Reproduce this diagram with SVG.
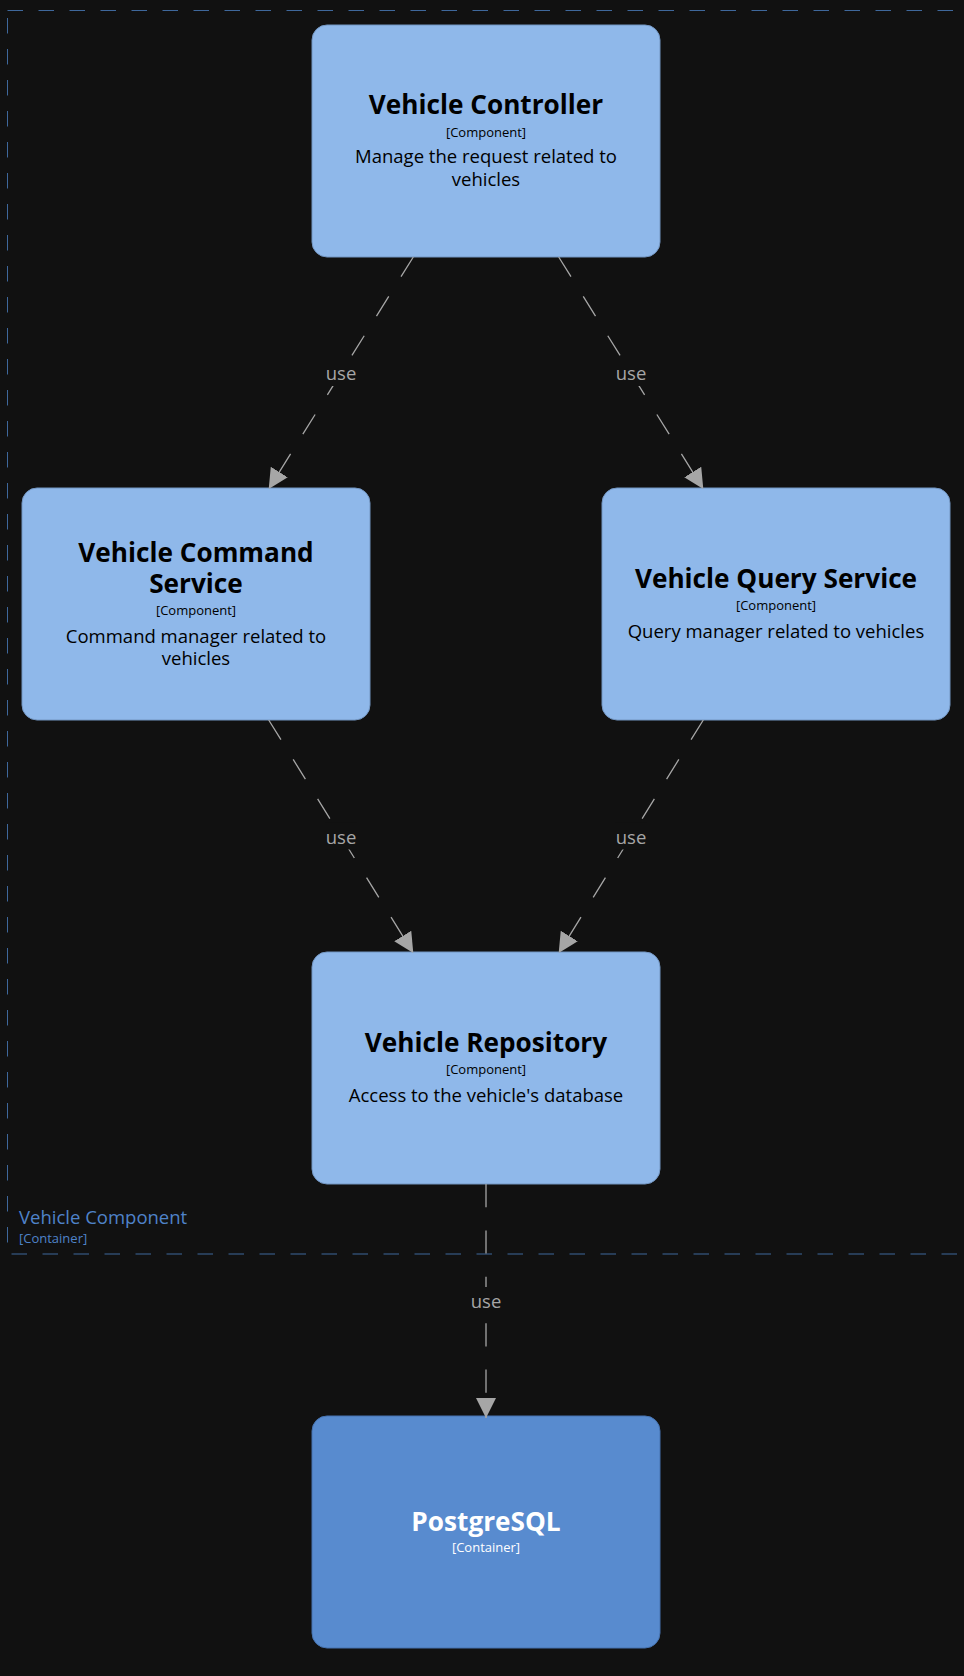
<svg xmlns="http://www.w3.org/2000/svg" width="964" height="1676" viewBox="0 0 964 1676">
<defs>
<style>
.bg{fill:#111111}
.boundary{fill:none;stroke:#3f689c;stroke-width:1;stroke-dasharray:15.5 15.5}
.blabel{font-family:"Open Sans","Noto Sans",sans-serif;fill:#4f83c9}
.box{fill:#8fb8ea;stroke:#7396c2;stroke-width:1}
.db{fill:#588bcf;stroke:#4673b0;stroke-width:1}
.t{font-family:"Open Sans","Noto Sans",sans-serif;text-anchor:middle;fill:#000}
.w{fill:#fff}
.name{font-size:26.2px;font-weight:bold}
.meta{font-size:13px}
.desc{font-size:18.5px}
.edge{fill:none;stroke:#a6a6a6;stroke-width:1.3;stroke-dasharray:23.2 23.2}
.lbg{fill:#111111}
.lbl{font-family:"Open Sans","Noto Sans",sans-serif;font-size:18.5px;fill:#a6a6a6;text-anchor:middle}
</style>
<marker id="arr" viewBox="0 0 20 20" refX="20" refY="10" markerWidth="20" markerHeight="20" markerUnits="userSpaceOnUse" orient="auto">
<path d="M0,0 L20,10 L0,20 z" fill="#a6a6a6"/>
</marker>
</defs>
<rect class="bg" x="0" y="0" width="964" height="1676"/>
<g id="boundary">
<rect class="boundary" x="7.5" y="10.5" width="1000" height="1243.5"/>
<text class="blabel" x="19" y="1224" font-size="18.5">Vehicle Component</text>
<text class="blabel" x="19" y="1243" font-size="13">[Container]</text>
</g>
<g id="vehicle-controller">
<rect class="box" x="312" y="25" width="348" height="232" rx="15"/>
<text class="t name" x="486" y="114">Vehicle Controller</text>
<text class="t meta" x="486" y="136.5">[Component]</text>
<text class="t desc" x="486" y="162.5">Manage the request related to</text>
<text class="t desc" x="486" y="185.5">vehicles</text>
</g>
<g id="vehicle-command-service">
<rect class="box" x="22" y="488" width="348" height="232" rx="15"/>
<text class="t name" x="196" y="561.5">Vehicle Command</text>
<text class="t name" x="196" y="593">Service</text>
<text class="t meta" x="196" y="615">[Component]</text>
<text class="t desc" x="196" y="642.5">Command manager related to</text>
<text class="t desc" x="196" y="664.5">vehicles</text>
</g>
<g id="vehicle-query-service">
<rect class="box" x="602" y="488" width="348" height="232" rx="15"/>
<text class="t name" x="776" y="588">Vehicle Query Service</text>
<text class="t meta" x="776" y="610">[Component]</text>
<text class="t desc" x="776" y="637.5">Query manager related to vehicles</text>
</g>
<g id="vehicle-repository">
<rect class="box" x="312" y="952" width="348" height="232" rx="15"/>
<text class="t name" x="486" y="1051.5">Vehicle Repository</text>
<text class="t meta" x="486" y="1074">[Component]</text>
<text class="t desc" x="486" y="1101.5">Access to the vehicle's database</text>
</g>
<g id="postgresql">
<rect class="db" x="312" y="1416" width="348" height="232" rx="15"/>
<text class="t name w" x="486" y="1530.5">PostgreSQL</text>
<text class="t meta w" x="486" y="1551.5">[Container]</text>
</g>
<g id="connectors">
<path class="edge" d="M413.3,257 L268.7,489" marker-end="url(#arr)"/>
<path class="edge" d="M558.7,257 L703.3,489" marker-end="url(#arr)"/>
<path class="edge" d="M268.7,720 L413.3,953" marker-end="url(#arr)"/>
<path class="edge" d="M703.3,720 L558.7,953" marker-end="url(#arr)"/>
<path class="edge" d="M486,1184 L486,1418" marker-end="url(#arr)"/>
<rect class="lbg" x="325" y="359" width="32" height="27"/>
<text class="lbl" x="341" y="380">use</text>
<rect class="lbg" x="615" y="359" width="32" height="27"/>
<text class="lbl" x="631" y="380">use</text>
<rect class="lbg" x="325" y="822.5" width="32" height="27"/>
<text class="lbl" x="341" y="843.5">use</text>
<rect class="lbg" x="615" y="822.5" width="32" height="27"/>
<text class="lbl" x="631" y="843.5">use</text>
<rect class="lbg" x="470" y="1287" width="32" height="27"/>
<text class="lbl" x="486" y="1308">use</text>
</g>
</svg>
